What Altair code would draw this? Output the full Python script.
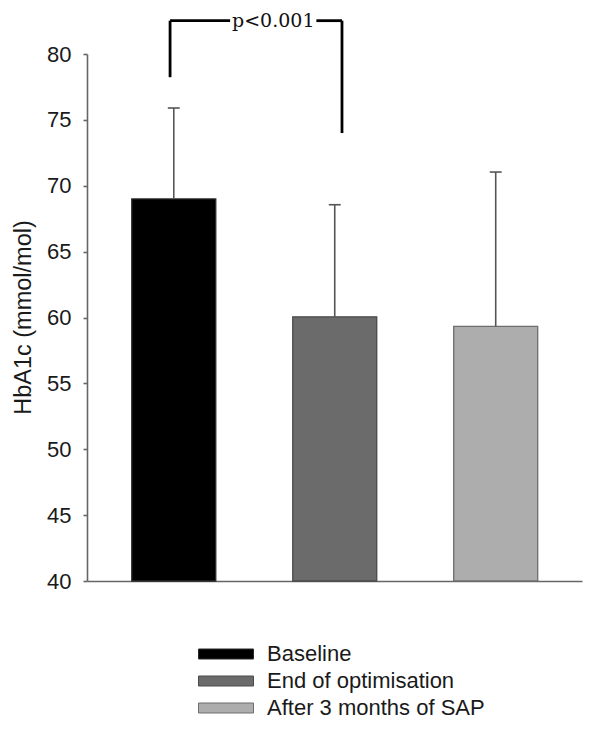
import altair as alt
import pandas as pd

# ---- data ----
groups = ["Baseline", "End of optimisation", "After 3 months of SAP"]
positions = [1, 2, 3]
means = [69.0, 60.05, 59.33]
upper = [75.9, 68.56, 71.04]
fills = ["#000000", "#6b6b6b", "#adadad"]
strokes = ["#2a2a2a", "#4a4a4a", "#6e6e6e"]

bracket_legs_x = [0.977, 2.045]
bracket_legs_bottom = [78.24, 74.0]
bracket_top = 82.53
bracket_segments_x = [0.977, 1.886]
bracket_segments_x2 = [1.35, 2.045]
p_label = "p<0.001"
p_label_x = 1.618

y_ticks = [40, 45, 50, 55, 60, 65, 70, 75, 80]
cap_half = 0.037

df = pd.DataFrame({"group": groups, "pos": positions, "mean": means, "upper": upper})
df["cap_l"] = df["pos"] - cap_half
df["cap_r"] = df["pos"] + cap_half

legs = pd.DataFrame({"x": bracket_legs_x, "y": bracket_legs_bottom, "y2": [bracket_top] * 2})
segs = pd.DataFrame({"x": bracket_segments_x, "x2": bracket_segments_x2, "y": [bracket_top] * 2})
lab = pd.DataFrame({"x": [p_label_x], "y": [bracket_top], "t": [p_label]})

xscale = alt.Scale(domain=[0.492, 3.505], nice=False, zero=False)
yscale = alt.Scale(domain=[40, 80], nice=False, zero=False)

x_axis = alt.Axis(labels=False, ticks=False, grid=False, title=None,
                  domainColor="#666666", domainWidth=1.6)
y_axis = alt.Axis(values=y_ticks, grid=False,
                  title="HbA1c (mmol/mol)", titleFontSize=23.5, titleFontWeight="normal",
                  titleFont="Liberation Sans", titleColor="#1a1a1a",
                  titleX=-64, titleY=263, titleAngle=270, titleAlign="center",
                  titleBaseline="middle",
                  labelFont="Liberation Sans", labelFontSize=22, labelColor="#1a1a1a",
                  labelPadding=12, tickSize=4, tickColor="#666666", tickWidth=1.6,
                  domainColor="#666666", domainWidth=1.6)

bars = alt.Chart(df).mark_bar(size=84, strokeWidth=1.3).encode(
    x=alt.X("pos:Q", scale=xscale, axis=x_axis),
    y=alt.Y("mean:Q", scale=yscale, axis=y_axis),
    y2=alt.datum(40),
    stroke=alt.Stroke("group:N", sort=groups,
                      scale=alt.Scale(domain=groups, range=strokes), legend=None),
    fill=alt.Fill("group:N", sort=groups,
                  scale=alt.Scale(domain=groups, range=fills),
                  legend=alt.Legend(title=None, orient="none", legendX=128, legendY=589,
                                    symbolType="M-5.5,-1H5.5V1H-5.5Z", symbolSize=100,
                                    symbolStrokeColor="#666666", symbolStrokeWidth=1,
                                    labelFont="Liberation Sans", labelFontSize=22,
                                    labelColor="#1a1a1a", labelOffset=30, labelLimit=400,
                                    rowPadding=5)),
)

err = alt.Chart(df).mark_rule(color="#555555", strokeWidth=1.6).encode(
    x="pos:Q", y="mean:Q", y2="upper:Q")
caps = alt.Chart(df).mark_rule(color="#555555", strokeWidth=1.6).encode(
    x="cap_l:Q", x2="cap_r:Q", y="upper:Q")

leg_rules = alt.Chart(legs).mark_rule(color="#000000", strokeWidth=2.8).encode(
    x="x:Q", y="y:Q", y2="y2:Q")
seg_rules = alt.Chart(segs).mark_rule(color="#000000", strokeWidth=2.8).encode(
    x="x:Q", x2="x2:Q", y="y:Q")
ptext = alt.Chart(lab).mark_text(font="DejaVu Serif", fontSize=19, color="#111111",
                                 baseline="middle", align="center").encode(
    x="x:Q", y="y:Q", text="t:N")

chart = alt.layer(bars, err, caps, leg_rules, seg_rules, ptext).properties(
    width=495, height=527,
    autosize=alt.AutoSizeParams(type="none"),
    padding={"top": 46, "left": 79, "right": 10, "bottom": 142},
).configure_view(stroke=None)

chart.save("out.html", embed_options={"renderer": "svg", "actions": False})
